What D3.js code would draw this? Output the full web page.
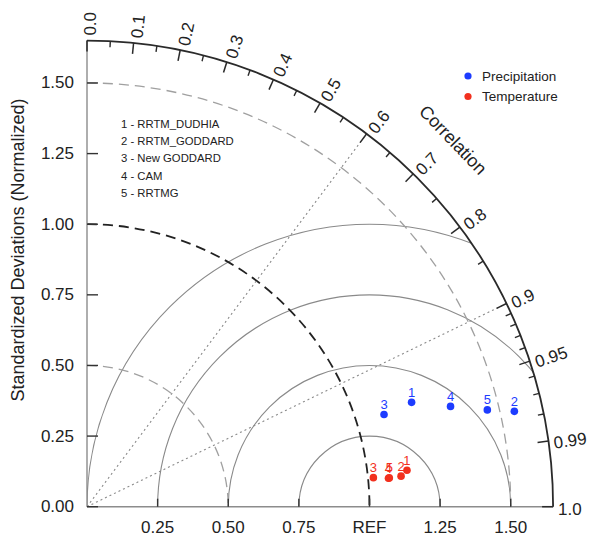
<!DOCTYPE html>
<html>
<head>
<meta charset="utf-8">
<script src="https://cdn.jsdelivr.net/npm/d3@7"></script>
<style>
  html, body { margin: 0; padding: 0; background: #fff; }
  svg { display: block; font-family: "Liberation Sans", Arial, Helvetica, sans-serif; }
</style>
</head>
<body>
<svg id="chart" width="592" height="540"></svg>
<script>
"use strict"

// models (numbered 1..5 on the plot)
const models = ["RRTM_DUDHIA", "RRTM_GODDARD", "New GODDARD", "CAM", "RRTMG"]

// normalized std dev and correlation
const precipStd = [1.207, 1.550, 1.101, 1.335, 1.458]
const precipCorr = [0.952, 0.976, 0.955, 0.964, 0.972]
const tempStd = [1.140, 1.117, 1.019, 1.072, 1.075]
const tempCorr = [0.9936, 0.9953, 0.9949, 0.9956, 0.9955]

const seriesNames = ["Precipitation", "Temperature"]
const seriesColors = ["#1d3cff", "#f2301e"]

const stdTicks = [0.25, 0.5, 0.75, 1.0, 1.25, 1.5]
const stdTickLabels = ["0.25", "0.50", "0.75", "REF", "1.25", "1.50"]
const yTicks = [0, 0.25, 0.5, 0.75, 1.0, 1.25, 1.5]
const corrMajor = [0, 0.1, 0.2, 0.3, 0.4, 0.5, 0.6, 0.7, 0.8, 0.9, 0.95, 0.99, 1.0]
const corrMajorLabels = ["0.0", "0.1", "0.2", "0.3", "0.4", "0.5", "0.6", "0.7", "0.8", "0.9", "0.95", "0.99", "1.0"]
const corrMinor = [0.05, 0.15, 0.25, 0.35, 0.45, 0.55, 0.65, 0.75, 0.85, 0.91, 0.92, 0.93, 0.94, 0.96, 0.97, 0.98]
const rmsCircles = [0.25, 0.5, 0.75, 1.0]
const stdArcsGray = [0.5, 1.5]
const corrLines = [0.6, 0.9]

const maxStd = 1.65

const svg = d3.select("#chart")
const x = d3.scaleLinear().domain([0, maxStd]).range([87, 553.1])
const y = d3.scaleLinear().domain([0, maxStd]).range([506.7, 40.6])
const ox = x(0), oy = y(0)
const px = v => x(v) - x(0)   // data units -> pixels (radius)

const polar = (r, c) => {
    let a = Math.acos(c)
    return [x(r * Math.cos(a)), y(r * Math.sin(a))]
}

// clip to quarter disc
svg.append("clipPath").attr("id", "quad")
    .append("path")
    .attr("transform", `translate(${ox},${oy})`)
    .attr("d", d3.arc().innerRadius(0).outerRadius(px(maxStd)).startAngle(0).endAngle(Math.PI / 2)())

const plot = svg.append("g")

// RMS circles centered on REF
plot.append("g").attr("clip-path", "url(#quad)")
    .selectAll("circle").data(rmsCircles).join("circle")
    .attr("cx", x(1)).attr("cy", y(0))
    .attr("r", d => px(d))
    .attr("fill", "none").attr("stroke", "#8a8a8a").attr("stroke-width", 1.1)

// std dev arcs around origin
const quarterArc = r => {
    let p = d3.path()
    p.arc(ox, oy, px(r), -Math.PI / 2, 0)
    return p.toString()
}
plot.selectAll("path.sd").data(stdArcsGray).join("path")
    .attr("class", "sd")
    .attr("d", d => quarterArc(d))
    .attr("fill", "none").attr("stroke", "#a0a0a0").attr("stroke-width", 1.3)
    .attr("stroke-dasharray", "10,6")
plot.append("path")
    .attr("d", quarterArc(1.0))
    .attr("fill", "none").attr("stroke", "#222").attr("stroke-width", 1.8)
    .attr("stroke-dasharray", "10,6")

// correlation lines
plot.selectAll("line.cl").data(corrLines).join("line")
    .attr("class", "cl")
    .attr("x1", ox).attr("y1", oy)
    .attr("x2", d => polar(maxStd, d)[0])
    .attr("y2", d => polar(maxStd, d)[1])
    .attr("stroke", "#8a8a8a").attr("stroke-width", 1.1)
    .attr("stroke-dasharray", "2,3")

// axes
plot.append("line").attr("x1", ox).attr("y1", oy).attr("x2", x(maxStd)).attr("y2", oy)
    .attr("stroke", "#8c8c8c").attr("stroke-width", 1.4)
plot.append("line").attr("x1", ox).attr("y1", oy).attr("x2", ox).attr("y2", y(maxStd))
    .attr("stroke", "#8c8c8c").attr("stroke-width", 1.4)

// y ticks
plot.selectAll("line.yt").data(yTicks).join("line")
    .attr("class", "yt")
    .attr("x1", ox).attr("x2", ox + 11)
    .attr("y1", d => y(d)).attr("y2", d => y(d))
    .attr("stroke", "#333").attr("stroke-width", 1.4)
svg.selectAll("text.yl").data(yTicks).join("text")
    .attr("class", "yl")
    .attr("x", 74).attr("y", d => y(d))
    .attr("text-anchor", "end").attr("dominant-baseline", "central")
    .attr("font-size", 17).attr("fill", "#222")
    .text(d => d3.format(".2f")(d))

// x ticks
plot.selectAll("line.xt").data(stdTicks).join("line")
    .attr("class", "xt")
    .attr("x1", d => x(d)).attr("x2", d => x(d))
    .attr("y1", oy).attr("y2", oy - 8)
    .attr("stroke", "#333").attr("stroke-width", 1.4)
svg.selectAll("text.xl").data(stdTicks).join("text")
    .attr("class", "xl")
    .attr("x", d => x(d)).attr("y", 527)
    .attr("text-anchor", "middle").attr("dominant-baseline", "central")
    .attr("font-size", 17).attr("fill", "#222")
    .text((d, i) => stdTickLabels[i])

// outer arc
plot.append("path")
    .attr("d", quarterArc(maxStd))
    .attr("fill", "none").attr("stroke", "#2a2a2a").attr("stroke-width", 1.8)

// correlation ticks
const R = px(maxStd)
const radialTick = (c, len) => {
    let a = Math.acos(c)
    return {
        x1: ox + R * Math.cos(a), y1: oy - R * Math.sin(a),
        x2: ox + (R - len) * Math.cos(a), y2: oy - (R - len) * Math.sin(a)
    }
}
plot.selectAll("line.cmaj").data(corrMajor).join("line")
    .attr("class", "cmaj")
    .each(function (d) {
        let t = radialTick(d, 11)
        d3.select(this).attr("x1", t.x1).attr("y1", t.y1).attr("x2", t.x2).attr("y2", t.y2)
    })
    .attr("stroke", "#2a2a2a").attr("stroke-width", 1.5)
plot.selectAll("line.cmin").data(corrMinor).join("line")
    .attr("class", "cmin")
    .each(function (d) {
        let t = radialTick(d, 6)
        d3.select(this).attr("x1", t.x1).attr("y1", t.y1).attr("x2", t.x2).attr("y2", t.y2)
    })
    .attr("stroke", "#2a2a2a").attr("stroke-width", 1.4)

svg.selectAll("text.cl").data(corrMajor).join("text")
    .attr("class", "cl")
    .attr("transform", d => {
        let a = Math.acos(d)
        let r = R + 5
        return `translate(${ox + r * Math.cos(a)},${oy - r * Math.sin(a)}) rotate(${-a * 180 / Math.PI})`
    })
    .attr("dy", 3)
    .attr("text-anchor", "start").attr("dominant-baseline", "central")
    .attr("font-size", 17).attr("fill", "#222")
    .text((d, i) => corrMajorLabels[i])

// titles
svg.append("text")
    .attr("transform", `translate(18,250) rotate(-90)`)
    .attr("text-anchor", "middle").attr("dominant-baseline", "central")
    .attr("font-size", 18).attr("fill", "#222")
    .text("Standardized Deviations (Normalized)")
svg.append("text")
    .attr("transform", `translate(453,140) rotate(46)`)
    .attr("text-anchor", "middle").attr("dominant-baseline", "central")
    .attr("font-size", 18).attr("fill", "#222")
    .text("Correlation")

// model list
svg.selectAll("text.ml").data(models).join("text")
    .attr("class", "ml")
    .attr("x", 121).attr("y", (d, i) => 124 + i * 17.2)
    .attr("dominant-baseline", "central")
    .attr("font-size", 11.3).attr("fill", "#222")
    .text((d, i) => `${i + 1} - ${d}`)

// legend
const lg = svg.append("g")
seriesNames.forEach((n, i) => {
    lg.append("circle").attr("cx", 468).attr("cy", 76 + i * 20.5).attr("r", 3.6).attr("fill", seriesColors[i])
    lg.append("text").attr("x", 482).attr("y", 76 + i * 20.5)
        .attr("dominant-baseline", "central")
        .attr("font-size", 13.5).attr("fill", "#222")
        .text(n)
})

// points
const series = [
    { std: precipStd, corr: precipCorr, color: seriesColors[0] },
    { std: tempStd, corr: tempCorr, color: seriesColors[1] },
]
series.forEach(s => {
    let pts = s.std.map((v, i) => ({ id: i + 1, p: polar(v, s.corr[i]) }))
    let g = plot.append("g")
    g.selectAll("circle").data(pts).join("circle")
        .attr("cx", d => d.p[0]).attr("cy", d => d.p[1])
        .attr("r", 3.8).attr("fill", s.color)
    g.selectAll("text").data(pts).join("text")
        .attr("x", d => d.p[0]).attr("y", d => d.p[1] - 10)
        .attr("text-anchor", "middle").attr("dominant-baseline", "central")
        .attr("font-size", 13).attr("fill", s.color)
        .text(d => d.id)
})
</script>
</body>
</html>
